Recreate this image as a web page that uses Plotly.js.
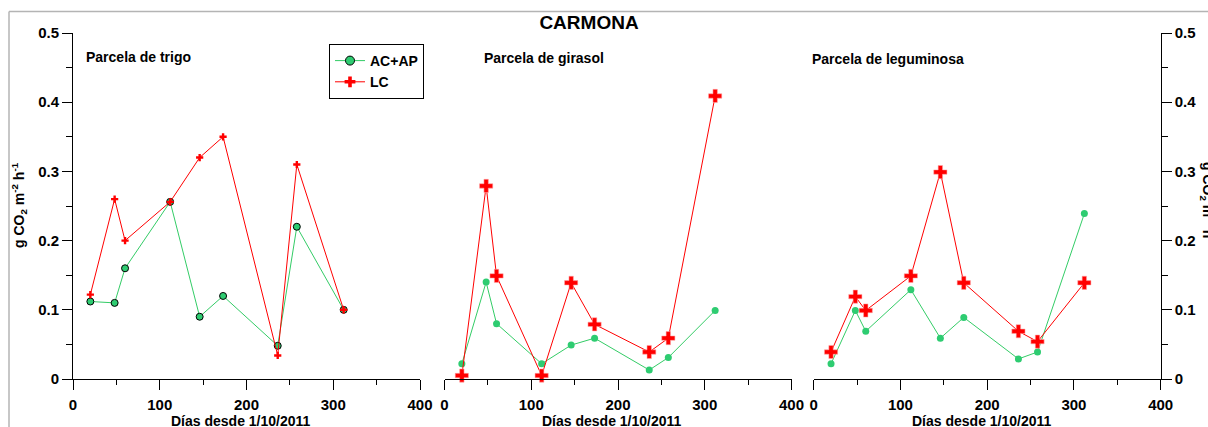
<!DOCTYPE html>
<html>
<head>
<meta charset="utf-8">
<script src="https://cdn.plot.ly/plotly-3.0.1.min.js"></script>
<style>
  html, body { margin: 0; padding: 0; background: #ffffff; }
  #chart { width: 1208px; height: 427px; }
</style>
</head>
<body>
<div id="chart"></div>
<script>
// ---- Data ----
const days = [20, 48, 60, 112, 146, 173, 236, 258, 312];

const trigoACAP   = [0.112, 0.110, 0.160, 0.256, 0.090, 0.120, 0.048, 0.220, 0.100];
const trigoLC     = [0.122, 0.260, 0.200, 0.256, 0.320, 0.350, 0.034, 0.310, 0.100];

const girasolACAP = [0.022, 0.140, 0.080, 0.022, 0.049, 0.059, 0.013, 0.031, 0.099];
const girasolLC   = [0.005, 0.279, 0.149, 0.005, 0.139, 0.079, 0.039, 0.059, 0.409];

const leguACAP    = [0.022, 0.099, 0.069, 0.129, 0.059, 0.089, 0.029, 0.039, 0.239];
const leguLC      = [0.039, 0.119, 0.099, 0.149, 0.299, 0.139, 0.069, 0.054, 0.139];

const seriesNames = ["AC+AP", "LC"];
const panelTitles = ["Parcela de trigo", "Parcela de girasol", "Parcela de leguminosa"];
const xTitle = "Días desde 1/10/2011";
const yTitle = "g CO<sub>2</sub> m<sup>-2</sup> h<sup>-1</sup>";
const chartTitle = "CARMONA";

// ---- Styling ----
const W = 1208, H = 427;
const FONT = "Arial, 'Liberation Sans', sans-serif";
const GREEN = "#2ecc71";
const GREEN_LINE = "#33cc66";
const RED = "#ff0000";

const px = v => v / W;
const py = v => 1 - v / H;

const xDomains = [[px(73), px(420)], [px(444.5), px(791.5)], [px(813.7), px(1160.7)]];
const yDomain = [py(379), py(33)];
const xTitleCenters = [241, 612, 982];

const traces = [];
const panelsACAP = [trigoACAP, girasolACAP, leguACAP];
const panelsLC = [trigoLC, girasolLC, leguLC];

for (let i = 0; i < 3; i++) {
  const xa = i === 0 ? "x" : "x" + (i + 1);
  const ya = i === 0 ? "y" : "y" + (i + 1);
  const first = i === 0;
  traces.push({
    type: "scatter", mode: "lines+markers", x: days, y: panelsACAP[i],
    xaxis: xa, yaxis: ya, name: seriesNames[0], showlegend: false,
    line: { color: GREEN_LINE, width: 1 },
    marker: { symbol: "circle", size: 7, color: GREEN,
              line: { color: first ? "#000000" : GREEN, width: first ? 1 : 0 } },
    cliponaxis: false
  });
  traces.push({
    type: "scatter", mode: "lines+markers", x: days, y: panelsLC[i],
    xaxis: xa, yaxis: ya, name: seriesNames[1], showlegend: false,
    line: { color: RED, width: 1 },
    marker: { symbol: "cross", size: first ? 6 : 11, color: RED,
              line: { color: "rgba(255,170,170,0.9)", width: first ? 0 : 0.6 } },
    cliponaxis: false
  });
}
// legend entries (no data points)
traces.push({
  type: "scatter", mode: "lines+markers", x: [null], y: [null], name: seriesNames[0],
  line: { color: GREEN_LINE, width: 1 },
  marker: { symbol: "circle", size: 9, color: GREEN, line: { color: "#000", width: 1 } }
});
traces.push({
  type: "scatter", mode: "lines+markers", x: [null], y: [null], name: seriesNames[1],
  line: { color: RED, width: 1 },
  marker: { symbol: "cross", size: 9, color: RED, line: { width: 0 } }
});

function xAxis(i) {
  return {
    domain: xDomains[i], anchor: i === 0 ? "y" : "y" + (i + 1),
    range: [0, 400], tick0: 0, dtick: 100,
    ticks: "outside", ticklen: 10, tickwidth: 1, tickcolor: "#000",
    minor: { dtick: 50, tick0: 0, ticks: "outside", ticklen: 5, tickwidth: 1, tickcolor: "#000" },
    showline: true, linecolor: "#000", linewidth: 1,
    showgrid: false, zeroline: false, automargin: false, fixedrange: true,
    ticklabelstandoff: 2,
    tickfont: { family: FONT, size: 15, color: "#000", weight: "bold" }
  };
}
function yAxis(i) {
  const base = {
    domain: yDomain, anchor: i === 0 ? "x" : "x" + (i + 1),
    range: [0, 0.5], tick0: 0, dtick: 0.1,
    showgrid: false, zeroline: false, automargin: false, fixedrange: true,
    tickfont: { family: FONT, size: 15, color: "#000", weight: "bold" }
  };
  if (i === 1) {
    return Object.assign(base, { visible: true, showline: false, ticks: "", showticklabels: false });
  }
  return Object.assign(base, {
    side: i === 0 ? "left" : "right",
    ticks: "outside", ticklen: 10, tickwidth: 1, tickcolor: "#000",
    minor: { dtick: 0.05, tick0: 0, ticks: "outside", ticklen: 6, tickwidth: 1, tickcolor: "#000" },
    showline: true, linecolor: "#000", linewidth: 1
  });
}

const annFont = { family: FONT, size: 14, color: "#000", weight: "bold" };
const annotations = [
  { text: panelTitles[0], x: px(84), y: py(57), xref: "paper", yref: "paper", xanchor: "left", yanchor: "middle", showarrow: false, font: annFont },
  { text: panelTitles[1], x: px(482), y: py(58), xref: "paper", yref: "paper", xanchor: "left", yanchor: "middle", showarrow: false, font: annFont },
  { text: panelTitles[2], x: px(810), y: py(59), xref: "paper", yref: "paper", xanchor: "left", yanchor: "middle", showarrow: false, font: annFont },
  { text: yTitle, x: px(19), y: py(205), xref: "paper", yref: "paper", xanchor: "center", yanchor: "middle", textangle: -90, showarrow: false, font: annFont },
  { text: yTitle, x: px(1208), y: py(205), xref: "paper", yref: "paper", xanchor: "center", yanchor: "middle", textangle: 90, showarrow: false, font: annFont }
];
xTitleCenters.forEach(c => annotations.push({
  text: xTitle, x: px(c), y: py(421), xref: "paper", yref: "paper",
  xanchor: "center", yanchor: "middle", showarrow: false, font: annFont
}));

const layout = {
  width: W, height: H,
  margin: { l: 0, r: 0, t: 0, b: 0, pad: 0 },
  paper_bgcolor: "#ffffff", plot_bgcolor: "rgba(0,0,0,0)",
  title: { text: chartTitle, x: px(589), y: py(22), xanchor: "center", yanchor: "middle",
           xref: "paper", yref: "paper",
           font: { family: FONT, size: 19, color: "#000", weight: "bold" } },
  showlegend: true,
  legend: {
    x: px(329), y: py(44), xanchor: "left", yanchor: "top",
    bordercolor: "#000", borderwidth: 1, bgcolor: "#ffffff",
    font: { family: FONT, size: 14, color: "#000", weight: "bold" },
    tracegroupgap: 0, itemwidth: 30
  },
  xaxis: xAxis(0), xaxis2: xAxis(1), xaxis3: xAxis(2),
  yaxis: yAxis(0), yaxis2: yAxis(1), yaxis3: yAxis(2),
  annotations: annotations,
  shapes: [
    { type: "line", xref: "paper", yref: "paper", x0: px(9), x1: 1, y0: py(11.5), y1: py(11.5), line: { color: "#b4b4b4", width: 1.5 } },
    { type: "line", xref: "paper", yref: "paper", x0: px(9), x1: px(9), y0: py(11.5), y1: 0, line: { color: "#b4b4b4", width: 1.5 } }
  ]
};

Plotly.newPlot("chart", traces, layout, { staticPlot: true, displayModeBar: false });
</script>
</body>
</html>
